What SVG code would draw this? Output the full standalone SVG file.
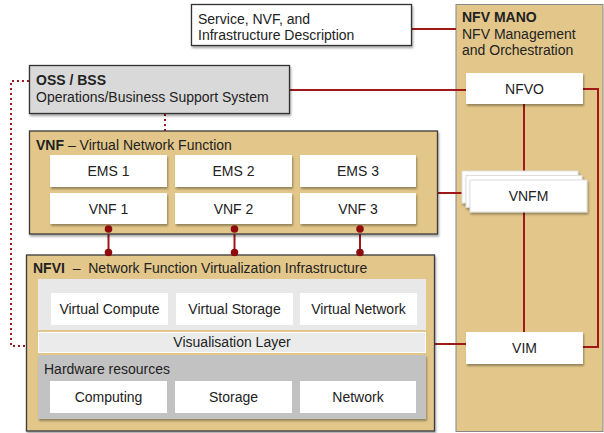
<svg xmlns="http://www.w3.org/2000/svg" width="604" height="433" viewBox="0 0 604 433">
<defs>
<filter id="sh" x="-10%" y="-10%" width="130%" height="140%">
<feDropShadow dx="1" dy="2" stdDeviation="1.2" flood-color="#000" flood-opacity="0.35"/>
</filter>
<style>
text{font-family:"Liberation Sans",Arial,sans-serif;font-size:14px;fill:#222}
.b{font-weight:bold}
.c{text-anchor:middle}
.tan{fill:#e3c78a;stroke:#3a3a3a;stroke-width:1.3}
.wb{fill:#fff}
.ln{stroke:#a01818;stroke-width:2;fill:none}
.dot{stroke:#a01818;stroke-width:2;fill:none;stroke-dasharray:2 3}
.dd{fill:#8e0c0c}
</style>
</defs>
<rect width="604" height="433" fill="#fff"/>

<g id="mano">
<rect x="456" y="4.5" width="147" height="427" fill="#e3c78a" stroke="#888" stroke-width="1"/>
<text x="462" y="22" class="b">NFV MANO</text>
<text x="462" y="39">NFV Management</text>
<text x="462" y="55">and Orchestration</text>
</g>

<g id="connectors">
<path class="ln" d="M412 29 H456"/>
<path class="ln" d="M290 90 H466"/>
<path class="ln" d="M524 104 V332"/>
<path class="ln" d="M583 89 H598 V347 H583"/>
<path class="ln" d="M438 193 H462"/>
<path class="ln" d="M434 344 H466"/>
<path class="dot" d="M29 81 H11 V346 H27"/>
<path class="dot" d="M165 114 V131"/>
<path d="M108.5 229 V252 M234.5 229 V252 M360 229 V252" stroke="#a01818" stroke-width="2"/>
</g>

<g id="service">
<rect x="191.5" y="4.5" width="220" height="41" fill="#fff" stroke="#333" stroke-width="1.3" filter="url(#sh)"/>
<text x="198" y="24">Service, NVF, and</text>
<text x="198" y="40">Infrastructure Description</text>
</g>

<g id="oss">
<rect x="29.5" y="65.5" width="260" height="48" fill="#d9d9d9" stroke="#333" stroke-width="1.3" filter="url(#sh)"/>
<text x="36" y="85" class="b">OSS / BSS</text>
<text x="36" y="102">Operations/Business Support System</text>
</g>

<g id="nfvo">
<rect x="466" y="73" width="117" height="31" class="wb" filter="url(#sh)"/>
<text x="524.5" y="94" class="c">NFVO</text>
</g>

<g id="vnfm">
<rect x="462" y="171" width="116" height="32" fill="#fff" stroke="#ddd" stroke-width="1" filter="url(#sh)"/>
<rect x="466" y="175.5" width="116" height="32" fill="#fff" stroke="#ddd" stroke-width="1" filter="url(#sh)"/>
<rect x="470" y="180" width="117" height="32" fill="#fff" stroke="#ddd" stroke-width="1" filter="url(#sh)"/>
<text x="528.5" y="201" class="c">VNFM</text>
</g>

<g id="vim">
<rect x="466" y="332" width="117" height="32" class="wb" filter="url(#sh)"/>
<text x="524.5" y="353" class="c">VIM</text>
</g>

<g id="vnf">
<rect x="29.5" y="131" width="408" height="103" class="tan" filter="url(#sh)"/>
<text x="36" y="150"><tspan class="b">VNF</tspan> – Virtual Network Function</text>
<rect x="50" y="155" width="117" height="32" class="wb" filter="url(#sh)"/>
<rect x="175" y="155" width="117" height="32" class="wb" filter="url(#sh)"/>
<rect x="300" y="155" width="116" height="32" class="wb" filter="url(#sh)"/>
<text x="108.5" y="176" class="c">EMS 1</text>
<text x="233.5" y="176" class="c">EMS 2</text>
<text x="358" y="176" class="c">EMS 3</text>
<rect x="50" y="193" width="117" height="31" class="wb" filter="url(#sh)"/>
<rect x="175" y="193" width="117" height="31" class="wb" filter="url(#sh)"/>
<rect x="300" y="193" width="116" height="31" class="wb" filter="url(#sh)"/>
<text x="108.5" y="214" class="c">VNF 1</text>
<text x="233.5" y="214" class="c">VNF 2</text>
<text x="358" y="214" class="c">VNF 3</text>
</g>

<g id="nfvi">
<rect x="26.5" y="255" width="408" height="176" class="tan" filter="url(#sh)"/>
<text x="33" y="273" xml:space="preserve"><tspan class="b">NFVI</tspan>  –  Network Function Virtualization Infrastructure</text>
<rect x="38" y="279" width="388" height="51" fill="#e8e8e8"/>
<rect x="51" y="293" width="117" height="32" class="wb"/>
<rect x="176" y="293" width="117" height="32" class="wb"/>
<rect x="300" y="293" width="117" height="32" class="wb"/>
<text x="109.5" y="314" class="c">Virtual Compute</text>
<text x="234.5" y="314" class="c">Virtual Storage</text>
<text x="358.5" y="314" class="c">Virtual Network</text>
<rect x="38.5" y="332.5" width="387" height="20" fill="#ebebeb" stroke="#fff" stroke-width="1"/>
<text x="232" y="347" class="c">Visualisation Layer</text>
<rect x="38" y="355" width="388" height="64" fill="#c2c2c2" filter="url(#sh)"/>
<text x="44" y="374">Hardware resources</text>
<rect x="50" y="381" width="117" height="32" class="wb"/>
<rect x="175" y="381" width="117" height="32" class="wb"/>
<rect x="300" y="381" width="116" height="32" class="wb"/>
<text x="108.5" y="401.5" class="c">Computing</text>
<text x="233.5" y="401.5" class="c">Storage</text>
<text x="358" y="401.5" class="c">Network</text>
</g>

<g id="dots">
<circle class="dd" cx="108.5" cy="229" r="3.8"/>
<circle class="dd" cx="108.5" cy="252.5" r="3.8"/>
<circle class="dd" cx="234.5" cy="229" r="3.8"/>
<circle class="dd" cx="234.5" cy="252.5" r="3.8"/>
<circle class="dd" cx="360" cy="229" r="3.8"/>
<circle class="dd" cx="360" cy="252.5" r="3.8"/>
</g>
</svg>
